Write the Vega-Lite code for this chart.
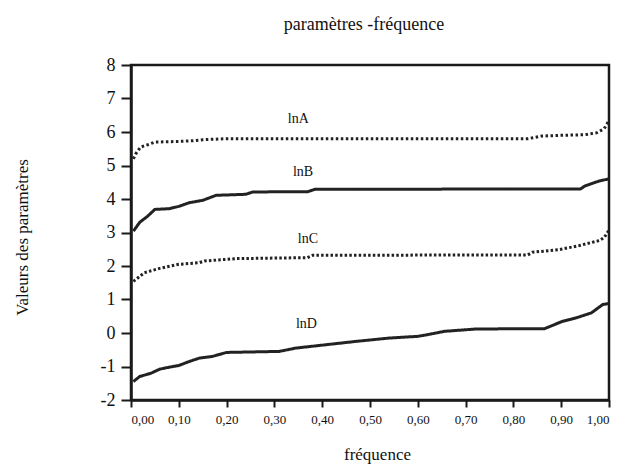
{
  "$schema": "https://vega.github.io/schema/vega-lite/v6.json",
  "autosize": "none",
  "width": 478,
  "height": 335,
  "padding": {"left": 131, "top": 65, "right": 13, "bottom": 66},
  "background": "white",
  "config": {
    "view": {"stroke": "#1a1a1a", "strokeWidth": 2.5},
    "font": "Liberation Serif",
    "title": {"font": "Liberation Serif", "fontSize": 18, "fontWeight": "normal", "color": "#111"},
    "axis": {"grid": false, "domainColor": "#1a1a1a", "domainWidth": 2.5, "tickColor": "#1a1a1a", "tickWidth": 2, "labelFont": "Liberation Serif", "labelColor": "#111", "titleFont": "Liberation Serif", "titleFontWeight": "normal", "titleColor": "#111", "labelOverlap": false}
  },
  "title": {"text": "paramètres -fréquence", "anchor": "middle", "offset": 22, "dx": -6},
  "datasets": {
    "curves": [
      {"s": "lnA", "x": 0.005, "y": 5.2}, {"s": "lnA", "x": 0.01, "y": 5.35}, {"s": "lnA", "x": 0.02, "y": 5.55}, {"s": "lnA", "x": 0.035, "y": 5.62}, {"s": "lnA", "x": 0.05, "y": 5.7}, {"s": "lnA", "x": 0.08, "y": 5.71}, {"s": "lnA", "x": 0.1, "y": 5.72}, {"s": "lnA", "x": 0.13, "y": 5.74}, {"s": "lnA", "x": 0.15, "y": 5.77}, {"s": "lnA", "x": 0.2, "y": 5.8}, {"s": "lnA", "x": 0.5, "y": 5.8}, {"s": "lnA", "x": 0.83, "y": 5.8}, {"s": "lnA", "x": 0.86, "y": 5.88}, {"s": "lnA", "x": 0.9, "y": 5.9}, {"s": "lnA", "x": 0.95, "y": 5.92}, {"s": "lnA", "x": 0.975, "y": 5.98}, {"s": "lnA", "x": 0.99, "y": 6.1}, {"s": "lnA", "x": 0.995, "y": 6.22}, {"s": "lnA", "x": 1.0, "y": 6.35},
      {"s": "lnB", "x": 0.005, "y": 3.04}, {"s": "lnB", "x": 0.018, "y": 3.3}, {"s": "lnB", "x": 0.035, "y": 3.49}, {"s": "lnB", "x": 0.05, "y": 3.69}, {"s": "lnB", "x": 0.08, "y": 3.71}, {"s": "lnB", "x": 0.1, "y": 3.78}, {"s": "lnB", "x": 0.122, "y": 3.89}, {"s": "lnB", "x": 0.15, "y": 3.96}, {"s": "lnB", "x": 0.178, "y": 4.11}, {"s": "lnB", "x": 0.24, "y": 4.14}, {"s": "lnB", "x": 0.255, "y": 4.21}, {"s": "lnB", "x": 0.37, "y": 4.22}, {"s": "lnB", "x": 0.385, "y": 4.29}, {"s": "lnB", "x": 0.94, "y": 4.3}, {"s": "lnB", "x": 0.95, "y": 4.39}, {"s": "lnB", "x": 0.98, "y": 4.54}, {"s": "lnB", "x": 1.0, "y": 4.6},
      {"s": "lnC", "x": 0.005, "y": 1.54}, {"s": "lnC", "x": 0.028, "y": 1.8}, {"s": "lnC", "x": 0.06, "y": 1.93}, {"s": "lnC", "x": 0.1, "y": 2.05}, {"s": "lnC", "x": 0.143, "y": 2.1}, {"s": "lnC", "x": 0.154, "y": 2.15}, {"s": "lnC", "x": 0.22, "y": 2.22}, {"s": "lnC", "x": 0.369, "y": 2.25}, {"s": "lnC", "x": 0.38, "y": 2.32}, {"s": "lnC", "x": 0.83, "y": 2.33}, {"s": "lnC", "x": 0.84, "y": 2.41}, {"s": "lnC", "x": 0.896, "y": 2.49}, {"s": "lnC", "x": 0.938, "y": 2.61}, {"s": "lnC", "x": 0.98, "y": 2.76}, {"s": "lnC", "x": 0.99, "y": 2.85}, {"s": "lnC", "x": 1.0, "y": 3.07},
      {"s": "lnD", "x": 0.005, "y": -1.45}, {"s": "lnD", "x": 0.018, "y": -1.3}, {"s": "lnD", "x": 0.042, "y": -1.2}, {"s": "lnD", "x": 0.06, "y": -1.08}, {"s": "lnD", "x": 0.08, "y": -1.02}, {"s": "lnD", "x": 0.1, "y": -0.97}, {"s": "lnD", "x": 0.122, "y": -0.85}, {"s": "lnD", "x": 0.143, "y": -0.75}, {"s": "lnD", "x": 0.17, "y": -0.7}, {"s": "lnD", "x": 0.19, "y": -0.62}, {"s": "lnD", "x": 0.2, "y": -0.58}, {"s": "lnD", "x": 0.31, "y": -0.55}, {"s": "lnD", "x": 0.345, "y": -0.45}, {"s": "lnD", "x": 0.408, "y": -0.35}, {"s": "lnD", "x": 0.471, "y": -0.25}, {"s": "lnD", "x": 0.541, "y": -0.15}, {"s": "lnD", "x": 0.6, "y": -0.1}, {"s": "lnD", "x": 0.62, "y": -0.05}, {"s": "lnD", "x": 0.656, "y": 0.05}, {"s": "lnD", "x": 0.722, "y": 0.12}, {"s": "lnD", "x": 0.865, "y": 0.13}, {"s": "lnD", "x": 0.903, "y": 0.35}, {"s": "lnD", "x": 0.931, "y": 0.45}, {"s": "lnD", "x": 0.963, "y": 0.6}, {"s": "lnD", "x": 0.987, "y": 0.85}, {"s": "lnD", "x": 1.0, "y": 0.88}
    ],
    "labels": [
      {"s": "lnA", "x": 0.35, "y": 6.38},
      {"s": "lnB", "x": 0.36, "y": 4.8},
      {"s": "lnC", "x": 0.37, "y": 2.82},
      {"s": "lnD", "x": 0.367, "y": 0.28}
    ]
  },
  "layer": [
    {
      "data": {"name": "curves"},
      "mark": {"type": "line", "strokeWidth": 3, "color": "#222"},
      "encoding": {
        "x": {"field": "x", "type": "quantitative", "scale": {"domain": [0, 1], "nice": false},
          "axis": {"values": [0, 0.1, 0.2, 0.3, 0.4, 0.5, 0.6, 0.7, 0.8, 0.9, 1.0], "tickCount": 15, "labelExpr": "replace(format(datum.value, '.2f'), '.', ',')", "labelFontSize": 13, "tickSize": 7, "labelPadding": 6, "title": "fréquence", "titleFontSize": 17, "titleX": 246, "titleY": 59, "titleBaseline": "alphabetic", "titleAnchor": "middle"}},
        "y": {"field": "y", "type": "quantitative", "scale": {"domain": [-2, 8], "nice": false, "zero": false},
          "axis": {"values": [-2, -1, 0, 1, 2, 3, 4, 5, 6, 7, 8], "tickCount": 15, "labelExpr": "'' + datum.value", "labelFontSize": 18, "tickSize": 10, "labelPadding": 6, "title": "Valeurs des paramètres", "titleFontSize": 17, "titleAngle": -90, "titleX": -104, "titleY": 172, "titleBaseline": "alphabetic", "titleAnchor": "middle"}},
        "detail": {"field": "s"},
        "strokeDash": {"field": "s", "type": "nominal", "legend": null,
          "scale": {"domain": ["lnA", "lnB", "lnC", "lnD"], "range": [[2.5, 2.5], [1, 0], [2.5, 2.2], [1, 0]]}}
      }
    },
    {
      "data": {"name": "labels"},
      "mark": {"type": "text", "fontSize": 14, "font": "Liberation Serif", "color": "#111", "baseline": "middle", "align": "center"},
      "encoding": {
        "x": {"field": "x", "type": "quantitative",
          "axis": {"values": [0, 0.1, 0.2, 0.3, 0.4, 0.5, 0.6, 0.7, 0.8, 0.9, 1.0], "tickCount": 15, "labelExpr": "replace(format(datum.value, '.2f'), '.', ',')", "labelFontSize": 13, "tickSize": 7, "labelPadding": 6, "title": "fréquence", "titleFontSize": 17, "titleX": 246, "titleY": 59, "titleBaseline": "alphabetic", "titleAnchor": "middle"}},
        "y": {"field": "y", "type": "quantitative",
          "axis": {"values": [-2, -1, 0, 1, 2, 3, 4, 5, 6, 7, 8], "tickCount": 15, "labelExpr": "'' + datum.value", "labelFontSize": 18, "tickSize": 10, "labelPadding": 6, "title": "Valeurs des paramètres", "titleFontSize": 17, "titleAngle": -90, "titleX": -104, "titleY": 172, "titleBaseline": "alphabetic", "titleAnchor": "middle"}},
        "text": {"field": "s"}
      }
    }
  ]
}
